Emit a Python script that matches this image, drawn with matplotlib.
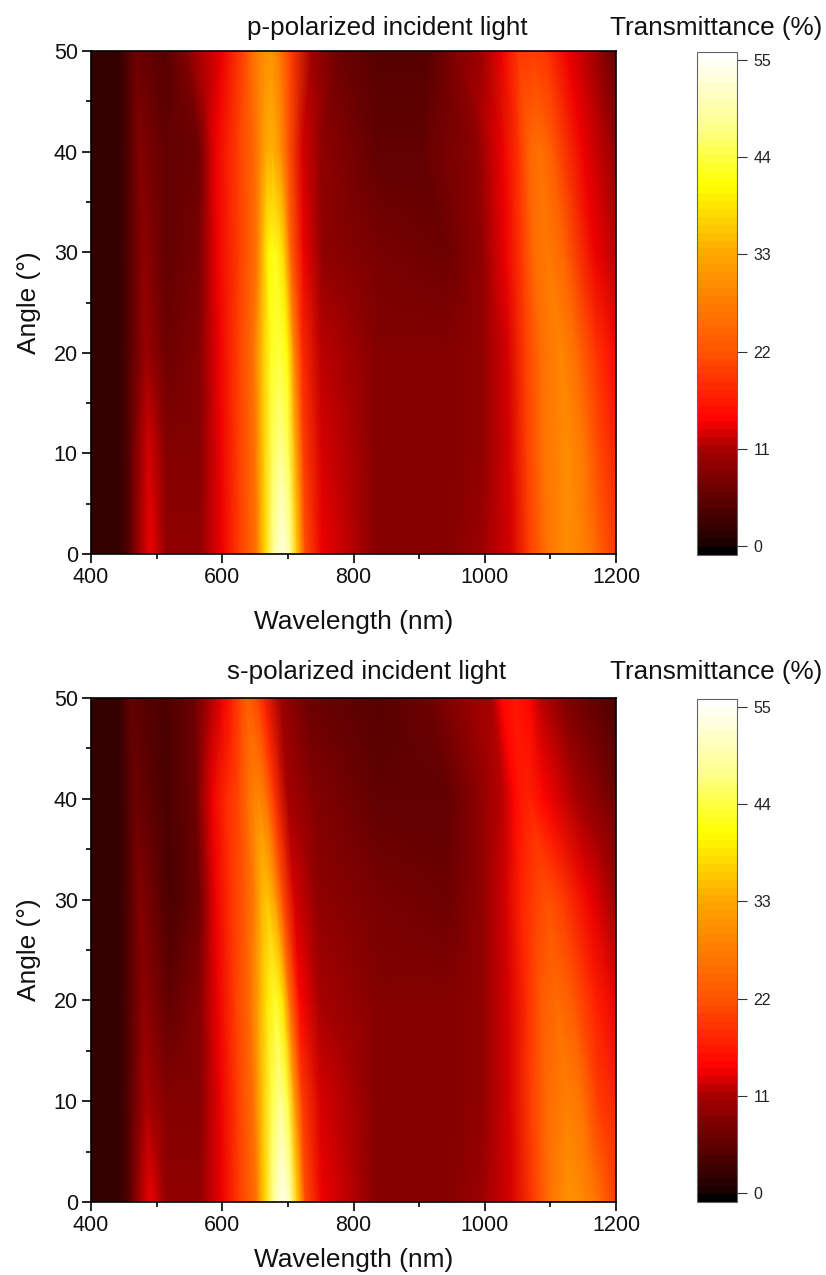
import numpy as np
import matplotlib
matplotlib.use('Agg')
import matplotlib.pyplot as plt
from matplotlib.colors import LinearSegmentedColormap, Normalize
from matplotlib.ticker import MultipleLocator

plt.rcParams['font.family'] = ['Liberation Sans', 'DejaVu Sans']

angles = [0, 10, 20, 30, 40, 50]

# p-polarised: spectra knots per angle (wavelength nm, transmittance %)
p_wl = [
 [400,442,458,490,515,565,600,626, 652,666,678,692,704,714,726, 752,837,942,995,1040, 1068,1095,1126,1150,1168,1200],
 [400,442,458,488,515,565,598,625, 650,664,676,689,701,711,724, 752,837,942,995,1038, 1064,1090,1126,1150,1175,1200],
 [400,442,458,484,515,565,596,624, 648,662,674,687,699,709,722, 750,837,942,995,1035, 1062,1085,1116,1140,1170,1200],
 [400,442,458,480,515,565,592,626, 652,660,670,681,693,704,724, 752,837,942,995,1032, 1058,1075,1095,1120,1168,1200],
 [400,442,458,474,515,565,590,624, 650,658,667,676,688,700,722, 750,837,900,990,1028, 1052,1068,1084,1105,1150,1200],
 [400,442,458,468,510,547,600,637, 645,655,665,674,686,705,737, 778,836,910,958,995, 1026,1050,1073,1095,1126,1200],
]
p_T = [
 [2,2.5,5,14,9,9,14,20, 26,38,48,54,48,36,22, 14,8.5,8.5,10,13, 20,26,30,28,25,19],
 [2,2.5,5,13,8.5,8.5,14,20, 26,37,45,48,45,34,20, 13,8,8,9.5,13, 20,26,30,27,21,17],
 [2,2.5,5,10,7,8,14,20, 26,36,42,44,41,30,18, 12,8,8,9.5,13, 20,25,29,25,19,15],
 [2,2.5,5,9,6,7.5,14,20, 26,33,40,42,38,24,14, 9.5,7.5,7,9,14, 20,25,27,24,14,12],
 [2,2.5,5,8,5.5,7,14,20, 25,29,33,34,31,23,13, 9,6,6,9,14, 19,24,26,23,14,9.5],
 [2,2.5,5,6.5,5,8,14,22, 25,28,30,31,28,20,10, 7,5,5,8,10, 14,19,20,19,14,6],
]

# s-polarised
s_wl = [
 [400,442,458,490,515,565,600,626, 652,666,678,692,704,714,726, 752,837,942,995,1040, 1075,1100,1130,1152,1168,1200],
 [400,442,458,484,515,565,598,624, 648,662,675,689,700,710,722, 750,837,942,995,1038, 1070,1095,1126,1148,1172,1200],
 [400,442,458,480,518,565,594,620, 642,655,668,681,692,702,718, 748,837,942,995,1036, 1064,1085,1110,1135,1168,1200],
 [400,442,458,475,521,565,590,614, 634,648,658,668,680,692,710, 745,837,942,995,1032, 1055,1075,1095,1118,1160,1200],
 [400,442,458,468,515,560,585,606, 625,638,648,655,667,680,700, 740,837,942,995,1028, 1045,1055,1068,1090,1140,1200],
 [400,442,455,462,510,558,580,600, 615,628,636,642,653,664,690, 730,837,915,979,1010, 1026,1045,1068,1085,1120,1200],
]
s_T = [
 [2,2.5,5,14,9,9,14,20, 26,38,48,55,50,37,22, 14,8.5,8.5,10,13, 20,26,31,29,27,20],
 [2,2.5,5,11,8,8.5,14,20, 26,36,44,48,44,32,20, 13,8,8,9.5,13, 20,25,28,26,20,17],
 [2,2.5,5,9,6,8,14,20, 25,32,39,43,39,27,15, 11,8,8,9,13, 18,23,25,23,17,14],
 [2,2.5,5,8,4,7,14,19, 23,27,33,36,32,22,13, 9.5,7.5,7,9,13, 17,20,22,20,14,10],
 [2,2.5,5,7,4,6.5,14,18, 21,25,28,29,26,19,11, 8,6,6,9,12, 15,16,17,15,11,7],
 [2,2.5,5,5.5,3.5,7,11,14, 17,21,23,23,21,17,10, 7,5,7,10,11, 15,16,15,12,8,3.5],
]

bar_ticks = [0, 11, 22, 33, 44, 55]
cmap_values = [-1, 0, 11, 14, 22, 33, 41, 48, 55.9]
cmap_colors = ['#000000', '#1e0000', '#aa0000', '#ff0000', '#ff5500', '#ffa500',
               '#ffff00', '#ffff90', '#ffffff']

VMIN, VMAX = -1.0, 55.9
W, H = 826, 1275
node = [(v - VMIN) / (VMAX - VMIN) for v in cmap_values]
cmap = LinearSegmentedColormap.from_list('tr', list(zip(node, cmap_colors)), N=64)
norm = Normalize(VMIN, VMAX)

fig = plt.figure(figsize=(W / 100, H / 100), dpi=100)


def box(x0, y0, x1, y1):
    return [x0 / W, 1 - y1 / H, (x1 - x0) / W, (y1 - y0) / H]


def panel(wl, T, top, bottom, bar_top, bar_bottom, title, title_x, title_y, pad):
    ax = fig.add_axes(box(91, top, 616, bottom))
    X = np.array(wl, float)
    Y = np.repeat(np.array(angles, float)[:, None], X.shape[1], axis=1)
    m = ax.pcolormesh(X, Y, np.array(T, float), cmap=cmap, norm=norm, shading='gouraud')
    ax.set_xlim(400, 1200)
    ax.set_ylim(0, 50)
    ax.xaxis.set_major_locator(MultipleLocator(200))
    ax.xaxis.set_minor_locator(MultipleLocator(100))
    ax.yaxis.set_major_locator(MultipleLocator(10))
    ax.yaxis.set_minor_locator(MultipleLocator(5))
    ax.tick_params(which='major', length=6.5, width=1.2, labelsize=15.5, pad=3,
                   color='black', labelcolor='#111111')
    ax.tick_params(which='minor', length=3.5, width=1.2)
    for s in ax.spines.values():
        s.set_linewidth(1.2)
    ax.set_xlabel('Wavelength (nm)', fontsize=18.9, labelpad=pad, color='#111111')
    ax.set_ylabel('Angle (°)', fontsize=18.9, labelpad=9, color='#111111')
    fig.text(title_x / W, 1 - title_y / H, title, fontsize=18.7, ha='center', va='center', color='#111111')
    fig.text(716 / W, 1 - title_y / H, 'Transmittance (%)', fontsize=18.8, ha='center', va='center', color='#111111')
    cax = fig.add_axes(box(697, bar_top, 737, bar_bottom))
    cb = fig.colorbar(m, cax=cax, ticks=bar_ticks)
    cb.outline.set_edgecolor('#666666')
    cb.outline.set_linewidth(0.8)
    cax.tick_params(length=7, width=0.8, color='#333333', labelsize=11.5, pad=5, labelcolor='#222222')
    return ax


panel(p_wl, p_T, 51, 554, 52, 555, 'p-polarized incident light', 387, 28, 16)
panel(s_wl, s_T, 698, 1202, 699, 1202, 's-polarized incident light', 367, 672, 8.5)

fig.savefig('out.png', dpi=100)
